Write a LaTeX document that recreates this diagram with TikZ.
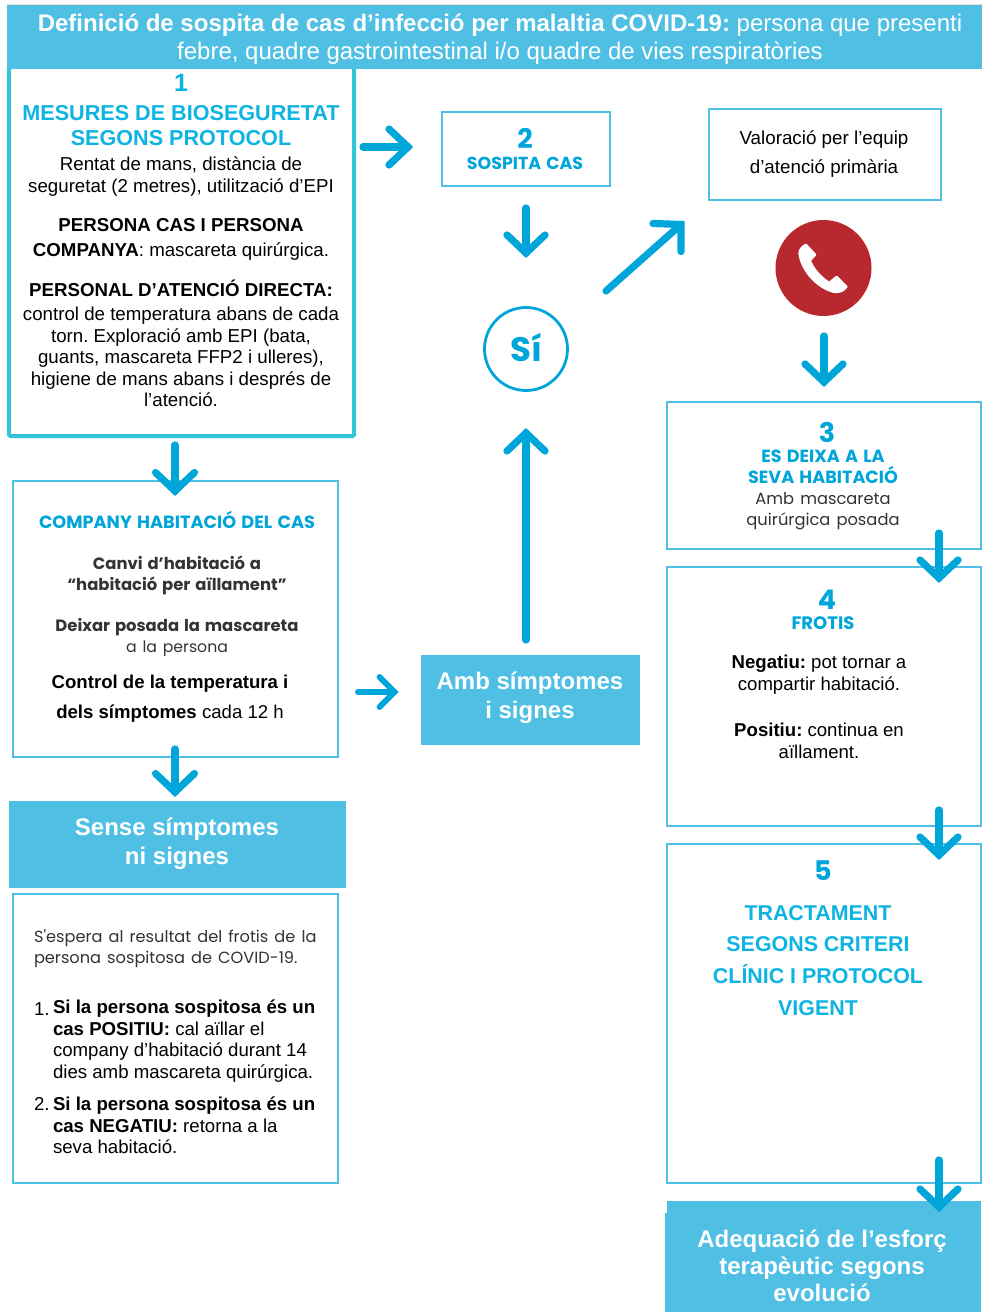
\documentclass[tikz,border=0pt]{standalone}
\usepackage{fontspec}
\setmainfont{Liberation Sans}
\newfontfamily\mont[WordSpace=1.4]{Poppins}
\newcommand{\fs}[2]{\fontsize{\dimexpr #1pt*3/4\relax}{\dimexpr #2pt*3/4\relax}\selectfont}
\AtBeginDocument{\frenchspacing}
\definecolor{banner}{HTML}{4FBFE4}
\definecolor{teal}{HTML}{33C6D8}
\definecolor{arrowblue}{HTML}{00A5DA}
\definecolor{headblue}{HTML}{0DB4E2}
\definecolor{greytext}{HTML}{333333}
\definecolor{phonered}{HTML}{B8292F}
\tikzset{
  x=0.75pt,y=-0.75pt,
  fillbox/.style={fill=banner,draw=none},
  thinbox/.style={draw=banner,line width=1.5pt,fill=white},
  txt/.style={inner sep=0pt,outer sep=0pt,align=center,text=black},
  whitetxt/.style={txt,text=white,font=\bfseries},
  flow/.style={draw=arrowblue,line width=5.4pt,line cap=round,line join=miter},
  flowsmall/.style={draw=arrowblue,line width=4.4pt,line cap=round,line join=miter},
}
\begin{document}
\begin{tikzpicture}
\useasboundingbox (0,0) rectangle (982,1312);
% box 1 under the banner
\draw[teal,line width=3pt,rounded corners=1pt,fill=white] (9,58) rectangle (354,436);
\fill[fillbox] (7,5) rectangle (982,69);
\draw[line width=.8pt,draw=black!12] (7,4.5) -- (982,4.5);
\node[whitetxt,font=\fs{24}{28}] (hdr) at (500,39) {\textbf{Definició de sospita de cas d’infecció per malaltia COVID-19:} \mdseries persona que presenti\\ \mdseries febre, quadre gastrointestinal i/o quadre de vies respiratòries};

\node[txt,text=headblue,font=\fs{25}{25}\bfseries] (n1) at (181,83) {1};
\node[txt,text=headblue,font=\fs{21.6}{25.5}\bfseries] (t1) at (181,125.5) {MESURES DE BIOSEGURETAT\\SEGONS PROTOCOL};
\node[txt,font=\fs{18.7}{22}] (b11) at (181,177) {Rentat de mans, distància de\\seguretat (2 metres), utilització d’EPI};
\node[txt,font=\fs{18.7}{25}] (b12) at (181,239) {\textbf{PERSONA CAS I PERSONA}\\\textbf{COMPANYA}: mascareta quirúrgica.};
\node[txt,font=\fs{18.7}{22}\bfseries] (b13) at (181,288) {PERSONAL D’ATENCIÓ DIRECTA:};
\node[txt,font=\fs{18.7}{21.6}] (b14) at (181,357) {control de temperatura abans de cada\\torn. Exploració amb EPI (bata,\\guants, mascareta FFP2 i ulleres),\\higiene de mans abans i després de\\l’atenció.};

% box 2
\node[thinbox,minimum width=168*.75pt,minimum height=74*.75pt,inner sep=0pt] (box2) at (525.5,149) {};
\node[txt,text=arrowblue,font=\mont\fs{27}{27}\bfseries] (n2) at (525,138) {2};
\node[txt,text=arrowblue,font=\mont\fs{17.4}{20}\bfseries] (t2) at (525,163.5) {SOSPITA CAS};

% assessment
\node[thinbox,minimum width=232*.75pt,minimum height=91*.75pt,inner sep=0pt] (val) at (824.5,154.5) {};
\node[txt,font=\fs{18.8}{29}] (valt) at (824,154.5) {Valoració per l’equip\\d’atenció primària};

% yes circle
\node[draw=arrowblue,line width=2.1pt,circle,minimum size=83*.75pt,inner sep=0pt,fill=white] (yes) at (526,349) {};
\node[txt,text=arrowblue,font=\mont\fs{34}{34}\bfseries] (yest) at (526.5,348) {Sí};

% phone
\node[circle,fill=phonered,minimum size=96*.75pt,inner sep=0pt] (phone) at (823.5,268) {};
\begin{scope}[shift={(760,210)},x=0.25pt,y=-0.25pt]
\filldraw[white,line width=1.5pt,line join=round] (138,104) -- (166,134) -- (150,152)
  .. controls (160,178) and (185,205) .. (208,218)
  -- (230,200) -- (260,230) .. controls (250,244) and (238,248) .. (222,246)
  .. controls (175,235) and (125,185) .. (118,130)
  .. controls (117,120) and (128,108) .. cycle;
\end{scope}

% box 3
\node[thinbox,minimum width=314*.75pt,minimum height=147*.75pt,inner sep=0pt] (box3) at (824,475.5) {};
\node[txt,text=arrowblue,font=\mont\fs{27}{27}\bfseries] (n3) at (827,432) {3};
\node[txt,text=arrowblue,font=\mont\fs{17.6}{21}\bfseries] (t3) at (823,466.5) {ES DEIXA A LA\\SEVA HABITACIÓ};
\node[txt,text=greytext,font=\mont\fs{16.3}{20.5}] (s3) at (823,511) {Amb mascareta\\quirúrgica posada};

% box 4
\node[thinbox,minimum width=314*.75pt,minimum height=259*.75pt,inner sep=0pt] (box4) at (824,696.5) {};
\node[txt,text=arrowblue,font=\mont\fs{27}{27}\bfseries] (n4) at (827,600) {4};
\node[txt,text=arrowblue,font=\mont\fs{18}{20}\bfseries] (t4) at (823,623.5) {FROTIS};
\node[txt,font=\fs{18.6}{22}] (neg) at (819,675) {\textbf{Negatiu:} pot tornar a\\compartir habitació.};
\node[txt,font=\fs{18.6}{22}] (pos) at (819,740.5) {\textbf{Positiu:} continua en\\aïllament.};

% box 5
\node[thinbox,minimum width=314*.75pt,minimum height=339*.75pt,inner sep=0pt] (box5) at (824,1013.5) {};
\node[txt,text=arrowblue,font=\mont\fs{27}{27}\bfseries] (n5) at (823,871) {5};
\node[txt,text=headblue,font=\fs{21.4}{31.8}\bfseries] (t5) at (818,960.5) {TRACTAMENT\\SEGONS CRITERI\\CLÍNIC I PROTOCOL\\VIGENT};

% adequacy
\fill[fillbox] (665,1213) rectangle (981,1312);
\fill[fillbox] (667,1201) rectangle (981,1214);
\coordinate (adq) at (823,1201);
\node[whitetxt,font=\fs{24}{27}\bfseries] (adqt) at (822,1266) {Adequació de l’esforç\\terapèutic segons\\evolució};

% company
\node[thinbox,minimum width=325*.75pt,minimum height=276*.75pt,inner sep=0pt] (comp) at (175.5,619) {};
\node[txt,text=arrowblue,font=\mont\fs{17.7}{20}\bfseries] (compt) at (177,519.5) {COMPANY HABITACIÓ DEL CAS};
\node[txt,text=greytext,font=\mont\fs{16.4}{21}\bfseries] (c1) at (177,575) {Canvi d’habitació a\\“habitació per aïllament”};
\node[txt,text=greytext,font=\mont\fs{15.7}{21}] (c2) at (177,637) {{\fs{16.4}{21}\bfseries Deixar posada la mascareta}\\a la persona};
\node[txt,font=\fs{18.6}{30}] (c3) at (170,699) {\textbf{Control de la temperatura i}\\\textbf{dels símptomes} cada 12 h};

% no symptoms
\fill[fillbox] (9,801) rectangle (346,888);
\coordinate (sen) at (177,801);
\node[whitetxt,font=\fs{24}{29}\bfseries] (sent) at (177,844) {Sense símptomes\\ni signes};

% waiting
\node[thinbox,minimum width=325*.75pt,minimum height=289*.75pt,inner sep=0pt] (wait) at (175.5,1038.5) {};
\node[txt,text=greytext,align=left,anchor=west,font=\mont\fs{16.2}{21}] (w0) at (34,949) {S'espera al resultat del frotis de la\\persona sospitosa de COVID-19.};
\node[txt,anchor=west,font=\fs{18.65}{22}] (w1n) at (34,1009) {1.};
\node[txt,align=left,anchor=west,font=\fs{18.65}{21.6}] (w1) at (53,1041) {\textbf{Si la persona sospitosa és un}\\\textbf{cas POSITIU:} cal aïllar el\\company d’habitació durant 14\\dies amb mascareta quirúrgica.};
\node[txt,anchor=west,font=\fs{18.65}{22}] (w2n) at (34,1104) {2.};
\node[txt,align=left,anchor=west,font=\fs{18.65}{21.6}] (w2) at (53,1125.5) {\textbf{Si la persona sospitosa és un}\\\textbf{cas NEGATIU:} retorna a la\\seva habitació.};

% with symptoms
\fill[fillbox] (421,655) rectangle (640,745);
\coordinate (amb) at (526,655);
\node[whitetxt,font=\fs{24}{29}\bfseries] (ambt) at (530,698) {Amb símptomes\\i signes};

% arrows: shaft from s to e, chevron head at e
\coordinate (a1s) at (363,147); \coordinate (a1e) at (408,147);
\coordinate (a2s) at (526,208); \coordinate (a2e) at (526,253);
\coordinate (a3s) at (606,291); \coordinate (a3e) at (681,224.5);
\coordinate (a4s) at (824,336); \coordinate (a4e) at (824,382);
\coordinate (a5s) at (526,640); \coordinate (a5e) at (526,433);
\coordinate (a6s) at (939,533); \coordinate (a6e) at (939,578);
\coordinate (a7s) at (939,810); \coordinate (a7e) at (939,855);
\coordinate (a8s) at (939,1160); \coordinate (a8e) at (939,1207);
\coordinate (a9s) at (175,445); \coordinate (a9e) at (175,491);
\coordinate (a10s) at (175,749); \coordinate (a10e) at (175,792);
\coordinate (a11s) at (358,692); \coordinate (a11e) at (394.5,692);
\draw[flow] (a1s) -- (a1e);  \draw[flow] (a1e) +(-19,-18) -- (a1e) -- +(-19,18);
\draw[flow] (a2s) -- (a2e);  \draw[flow] (a2e) +(-19,-18) -- (a2e) -- +(19,-18);
\draw[flow] (a3s) -- (a3e);  \draw[flow] (a3e) +(-28,-1) -- (a3e) -- +(0,27);
\draw[flow] (a4s) -- (a4e);  \draw[flow] (a4e) +(-19,-18) -- (a4e) -- +(19,-18);
\draw[flow] (a5s) -- (a5e);  \draw[flow] (a5e) +(-19,18) -- (a5e) -- +(19,18);
\draw[flow] (a6s) -- (a6e);  \draw[flow] (a6e) +(-19,-18) -- (a6e) -- +(19,-18);
\draw[flow] (a7s) -- (a7e);  \draw[flow] (a7e) +(-19,-18) -- (a7e) -- +(19,-18);
\draw[flow] (a8s) -- (a8e);  \draw[flow] (a8e) +(-19,-18) -- (a8e) -- +(19,-18);
\draw[flow] (a9s) -- (a9e);  \draw[flow] (a9e) +(-19.5,-18.5) -- (a9e) -- +(19.5,-18.5);
\draw[flow] (a10s) -- (a10e); \draw[flow] (a10e) +(-19.5,-18.5) -- (a10e) -- +(19.5,-18.5);
\draw[flowsmall] (a11s) -- (a11e); \draw[flowsmall] (a11e) +(-15,-15) -- (a11e) -- +(-15,15);
\end{tikzpicture}
\end{document}
